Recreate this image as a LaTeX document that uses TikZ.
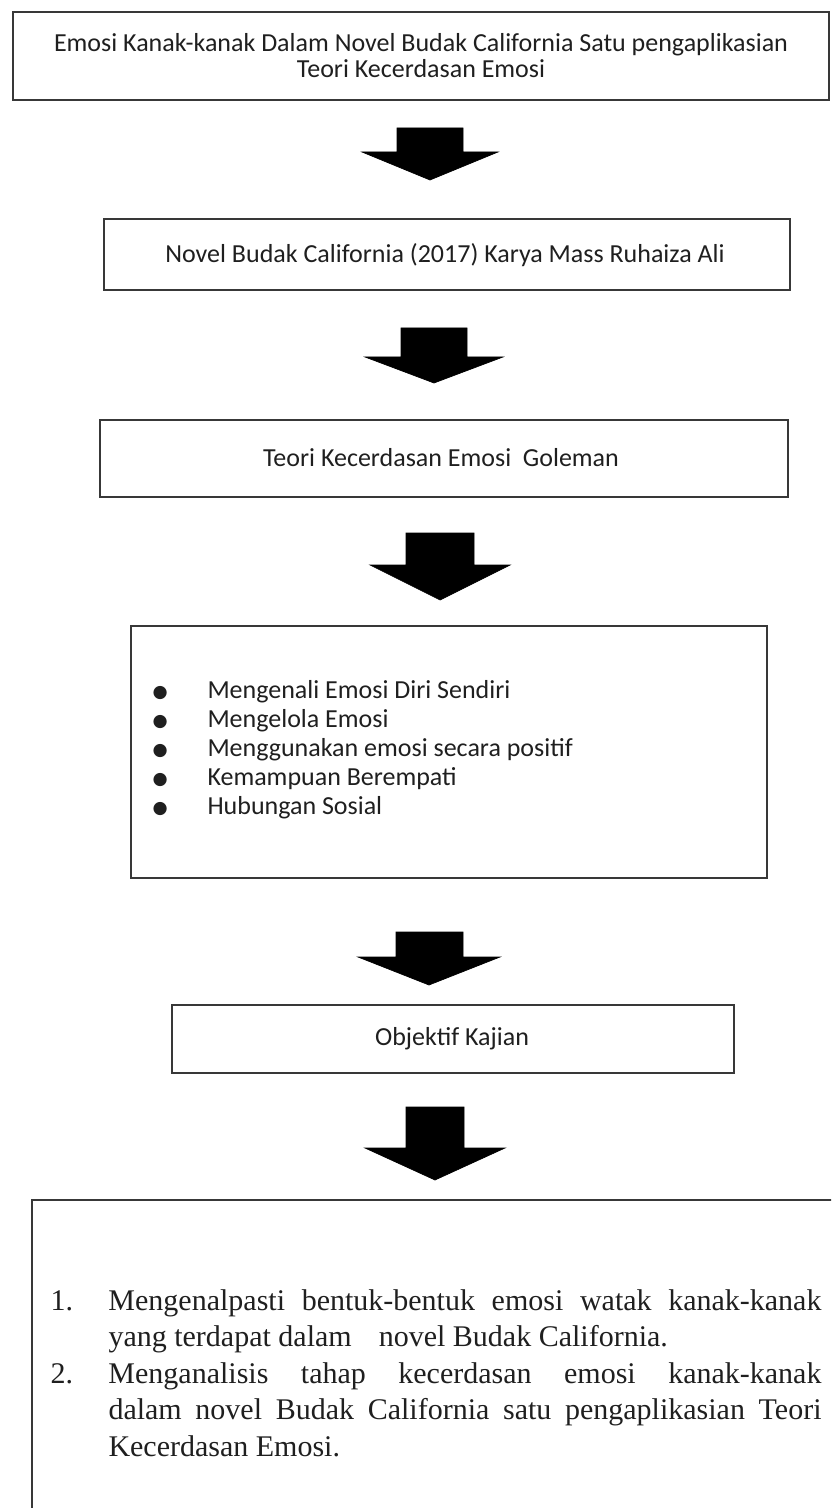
\documentclass[tikz,border=0pt]{standalone}
\usepackage{fontspec}
\setmainfont{Liberation Serif}
\newfontfamily\calfont{Carlito}
\newfontfamily\dotfont{DejaVu Sans}

\tikzset{every picture/.style={line width=0.75pt}}
\tikzset{boxline/.style={draw=black!78, line width=1.6pt}}
\tikzset{boxtext/.style={font=\calfont\fontsize{19.5}{19.5}\selectfont, text=black!88, inner sep=0.75pt, align=center}}
\tikzset{downarrow/.style={fill=black, draw=black, line width=0.5pt}}
\newcommand{\bigdot}{\raisebox{0.6pt}{\dotfont\fontsize{13}{13}\selectfont ●}}

\begin{document}
\begin{tikzpicture}[x=0.75pt,y=0.75pt,yscale=-1,xscale=1]
\path[use as bounding box, clip] (0,0) rectangle (831,1508);

%Shape: Rectangle [id:box1]
\draw [boxline] (13,12) -- (829,12) -- (829,100) -- (13,100) -- cycle ;
%Shape: Down Arrow [id:arr1]
\draw [downarrow] (397,128) -- (463,128) -- (463,152) -- (498,152) -- (430,180) -- (362,152) -- (397,152) -- cycle ;
%Shape: Rectangle [id:box2]
\draw [boxline] (104,219) -- (790,219) -- (790,290) -- (104,290) -- cycle ;
%Shape: Down Arrow [id:arr2]
\draw [downarrow] (401,328) -- (467,328) -- (467,357) -- (503,357) -- (434,383) -- (365,357) -- (401,357) -- cycle ;
%Shape: Rectangle [id:box3]
\draw [boxline] (100,420) -- (788,420) -- (788,497) -- (100,497) -- cycle ;
%Shape: Down Arrow [id:arr3]
\draw [downarrow] (406,533) -- (474,533) -- (474,565) -- (510,565) -- (440,600) -- (370,565) -- (406,565) -- cycle ;
%Shape: Rectangle [id:box4]
\draw [boxline] (131,626) -- (767,626) -- (767,878) -- (131,878) -- cycle ;
%Shape: Down Arrow [id:arr4]
\draw [downarrow] (396,932) -- (463,932) -- (463,957) -- (500,957) -- (429,985) -- (358,957) -- (396,957) -- cycle ;
%Shape: Rectangle [id:box5]
\draw [boxline] (172,1005) -- (734,1005) -- (734,1073) -- (172,1073) -- cycle ;
%Shape: Down Arrow [id:arr5]
\draw [downarrow] (406,1107) -- (464,1107) -- (464,1148) -- (505,1148) -- (435,1180) -- (365,1148) -- (406,1148) -- cycle ;
%Shape: Rectangle [id:box6]
\draw [boxline] (32,1200) -- (870,1200) -- (870,1540) -- (32,1540) -- cycle ;

% Text Node
\draw (421,56) node [boxtext] (title) {Emosi Kanak-kanak Dalam Novel Budak California Satu pengaplikasian\\Teori Kecerdasan Emosi};
% Text Node
\draw (445,255) node [boxtext] (novel) {Novel Budak California (2017) Karya Mass Ruhaiza Ali};
% Text Node
\draw (441,458) node [boxtext] (theory) {Teori Kecerdasan Emosi\ \ Goleman};
% Text Node
\draw (152,698) node [anchor=base west, inner sep=0pt, text=black!88, font=\calfont\fontsize{19.5}{21.75}\selectfont] (traits) {%
\begin{tabular}[t]{@{}p{41.25pt}@{}l@{}}
\bigdot & Mengenali Emosi Diri Sendiri\\
\bigdot & Mengelola Emosi\\
\bigdot & Menggunakan emosi secara positif\\
\bigdot & Kemampuan Berempati\\
\bigdot & Hubungan Sosial
\end{tabular}};
% Text Node
\draw (452,1039) node [boxtext] (objective) {Objektif Kajian};
% Text Node
\draw (50,1310) node [anchor=base west, inner sep=0pt, text=black!88, font=\fontsize{22.5}{27.4}\selectfont] (aims) {%
\begin{tabular}[t]{@{}p{43.5pt}@{}l@{}}
1. & \makebox[534.75pt][s]{Mengenalpasti bentuk-bentuk emosi watak kanak-kanak}\\
 & yang terdapat dalam\hspace{0.9em}novel Budak California.\\
2. & \makebox[534.75pt][s]{Menganalisis tahap kecerdasan emosi kanak-kanak}\\
 & \makebox[534.75pt][s]{dalam novel Budak California satu pengaplikasian Teori}\\
 & Kecerdasan Emosi.
\end{tabular}};

\end{tikzpicture}
\end{document}
